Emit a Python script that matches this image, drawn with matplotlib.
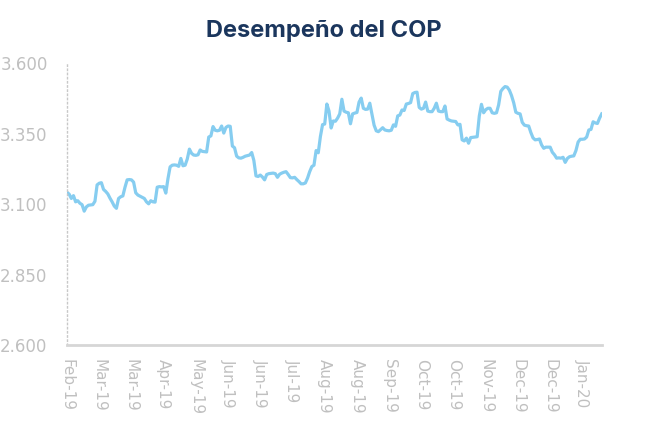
import matplotlib
matplotlib.use("Agg")
import matplotlib.pyplot as plt

# COP exchange rate, daily closes
cop = [
    3142, 3135, 3120, 3130, 3108, 3112, 3103, 3098, 3075, 3090,
    3096, 3097, 3098, 3110, 3168, 3174, 3176, 3152, 3145, 3136,
    3121, 3108, 3093, 3085, 3120, 3126, 3129, 3160, 3186, 3187,
    3186, 3178, 3140, 3132, 3128, 3124, 3120, 3108, 3101, 3112,
    3108, 3107, 3160, 3162, 3161, 3162, 3139, 3190, 3232, 3238,
    3239, 3238, 3234, 3262, 3236, 3238, 3260, 3295, 3280, 3274,
    3273, 3275, 3292, 3287, 3286, 3285, 3338, 3342, 3375, 3362,
    3360, 3362, 3377, 3352, 3372, 3377, 3376, 3306, 3300, 3270,
    3264, 3263, 3266, 3270, 3272, 3274, 3283, 3255, 3200, 3198,
    3203, 3196, 3186, 3205, 3208, 3209, 3210, 3208, 3195, 3206,
    3210, 3213, 3215, 3205, 3194, 3193, 3195, 3187, 3180, 3172,
    3172, 3175, 3192, 3215, 3233, 3238, 3290, 3282, 3340, 3382,
    3384, 3455, 3430, 3370, 3395, 3394, 3405, 3420, 3472, 3430,
    3426, 3424, 3385, 3420, 3423, 3425, 3462, 3476, 3440, 3436,
    3437, 3458, 3418, 3380, 3360, 3357, 3364, 3371, 3363, 3361,
    3360, 3362, 3381, 3376, 3413, 3416, 3434, 3432, 3455, 3457,
    3460, 3492, 3496, 3497, 3443, 3437, 3440, 3462, 3430, 3428,
    3428, 3440, 3458, 3430, 3428, 3428, 3448, 3402, 3398, 3395,
    3394, 3393, 3381, 3383, 3328, 3324, 3334, 3316, 3336, 3337,
    3338, 3339, 3413, 3454, 3424, 3435, 3440, 3440, 3424, 3422,
    3424, 3452, 3500, 3510, 3517, 3515, 3504, 3485, 3460, 3426,
    3422, 3420, 3390, 3380, 3378, 3377, 3354, 3335, 3328, 3329,
    3331, 3310, 3298, 3302, 3302, 3302, 3284, 3275, 3263, 3264,
    3263, 3266, 3248, 3262, 3268, 3270, 3271, 3290, 3320, 3330,
    3330, 3331, 3338, 3363, 3365, 3392, 3388, 3386, 3405, 3420,
]

# one label every 15 trading days
x_labels = ["Feb-19", "Mar-19", "Mar-19", "Apr-19", "May-19", "Jun-19",
            "Jun-19", "Jul-19", "Aug-19", "Aug-19", "Sep-19", "Oct-19",
            "Oct-19", "Nov-19", "Dec-19", "Dec-19", "Jan-20"]
label_step = 15

y_ticks = [2600, 2850, 3100, 3350, 3600]
y_labels = ["2.600", "2.850", "3.100", "3.350", "3.600"]

grey = "#c0c0c0"

fig = plt.figure(figsize=(6.47, 4.24), dpi=100)
ax = fig.add_axes([0.1036, 0.1863, 0.8264, 0.6647])

ax.plot(range(len(cop)), cop, color="#86cdf0", linewidth=2.3)

ax.set_xlim(0, len(cop) - 1)
ax.set_ylim(2600, 3600)

ax.set_yticks(y_ticks)
ax.set_yticklabels(y_labels, fontsize=12)
ax.set_xticks([i * label_step for i in range(len(x_labels))])
ax.set_xticklabels(x_labels, rotation=270, fontsize=11)

ax.tick_params(axis="both", length=0, colors=grey)
ax.tick_params(axis="y", pad=14)
ax.tick_params(axis="x", pad=10)

for s in ["top", "right"]:
    ax.spines[s].set_visible(False)
ax.spines["left"].set_linestyle((0, (1, 2)))
ax.spines["left"].set_color("#c8c8c8")
ax.spines["left"].set_linewidth(1)
ax.spines["bottom"].set_color("#d6d6d6")
ax.spines["bottom"].set_linewidth(2)

fig.text(0.5, 0.928, "Desempeño del COP", ha="center", va="center",
         fontsize=17, fontweight="bold", color="#1b365d", family="Inter")

fig.savefig("out.png", dpi=100)
